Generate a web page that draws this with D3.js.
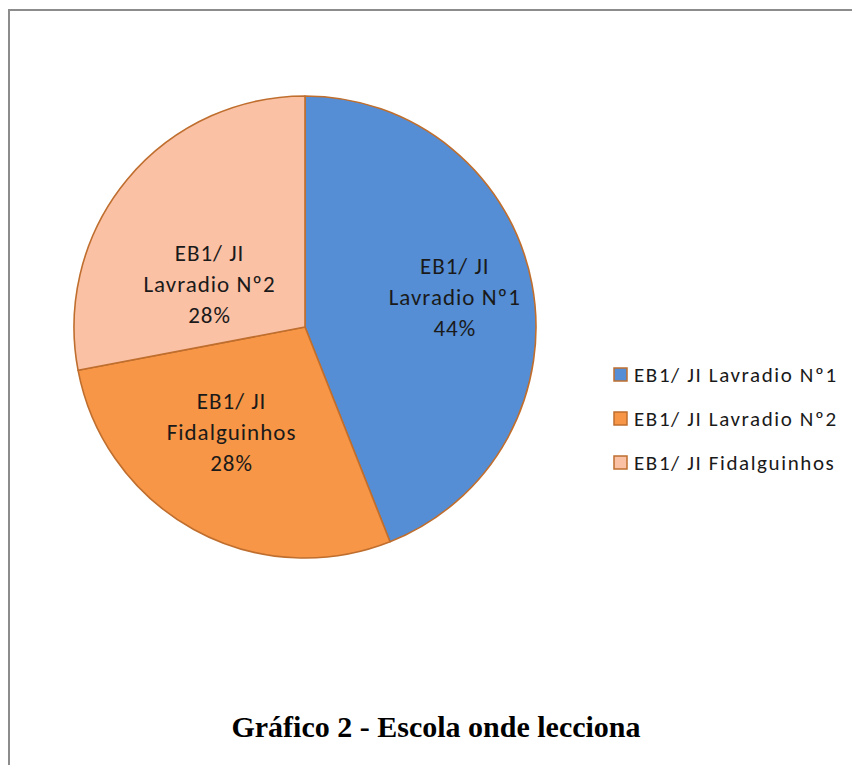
<!DOCTYPE html>
<html><head><meta charset="utf-8">
<script src="https://cdn.jsdelivr.net/npm/d3@7"></script>
<style>html,body{margin:0;padding:0;background:#fff;}</style>
</head><body>
<svg id="c" width="852" height="765"></svg>
<script>
// Data
const categories = ["EB1/ JI Lavradio Nº1", "EB1/ JI Lavradio Nº2", "EB1/ JI Fidalguinhos"];
const values = [44, 28, 28];
const colors = ["#558ED5", "#F79646", "#FAC1A5"];
// Slice labels as printed in the original (the original labels the two orange slices differently from its legend)
const sliceLabels = [["EB1/ JI", "Lavradio Nº1", "44%"], ["EB1/ JI", "Fidalguinhos", "28%"], ["EB1/ JI", "Lavradio Nº2", "28%"]];
const titleText = "Gráfico 2 - Escola onde lecciona";

// Layout
const cx = 305, cy = 327, R = 231;
const labelNudge = [[0, 0], [0, -28], [22, 55]];
const labelFont = "Carlito, Lato, 'DejaVu Sans', sans-serif";

const svg = d3.select("#c");
// frame (top & left visible)
svg.append("path").attr("d", "M9,765 L9,10 L852,10").attr("fill", "none").attr("stroke", "#8c8c8c").attr("stroke-width", 2);

const pie = d3.pie().sort(null).value(d => d)(values);
const arc = d3.arc().innerRadius(0).outerRadius(R);
const labelArc = d3.arc().innerRadius(R * 0.66).outerRadius(R * 0.66);

const g = svg.append("g").attr("transform", `translate(${cx},${cy})`);
g.selectAll("path.s").data(pie).join("path").attr("class", "s")
  .attr("d", arc).attr("fill", (d, i) => colors[i])
  .attr("stroke", "#BF6E2E").attr("stroke-width", 1.6).attr("stroke-linejoin", "round");

g.selectAll("text.l").data(pie).join("text").attr("class", "l")
  .attr("transform", (d, i) => { const c = labelArc.centroid(d); return `translate(${c[0] + labelNudge[i][0]},${c[1] + labelNudge[i][1]})`; })
  .attr("text-anchor", "middle").attr("font-family", labelFont).attr("font-size", 23)
  .attr("letter-spacing", 1).attr("fill", "#1a1a1a")
  .each(function (d, i) {
    const t = d3.select(this);
    sliceLabels[i].forEach((s, k) => t.append("tspan").attr("x", 0).attr("y", (k - 1) * 31 + 7).text(s));
  });

// Legend
const lg = svg.append("g").attr("transform", "translate(614,368)");
const item = lg.selectAll("g").data(categories).join("g").attr("transform", (d, i) => `translate(0,${i * 44})`);
item.append("rect").attr("x", 0).attr("y", 0).attr("width", 13).attr("height", 13)
  .attr("fill", (d, i) => colors[i]).attr("stroke", "#BF6E2E").attr("stroke-width", 1.5);
item.append("text").attr("x", 20).attr("y", 14).attr("font-family", labelFont).attr("font-size", 21)
  .attr("letter-spacing", 1.6).attr("fill", "#1a1a1a").text(d => d);

// Title
svg.append("text").attr("x", 436).attr("y", 737).attr("text-anchor", "middle")
  .attr("font-family", "'Liberation Serif', 'Times New Roman', serif").attr("font-weight", "bold").attr("font-size", 30)
  .attr("fill", "#000").text(titleText);
</script>
</body></html>
